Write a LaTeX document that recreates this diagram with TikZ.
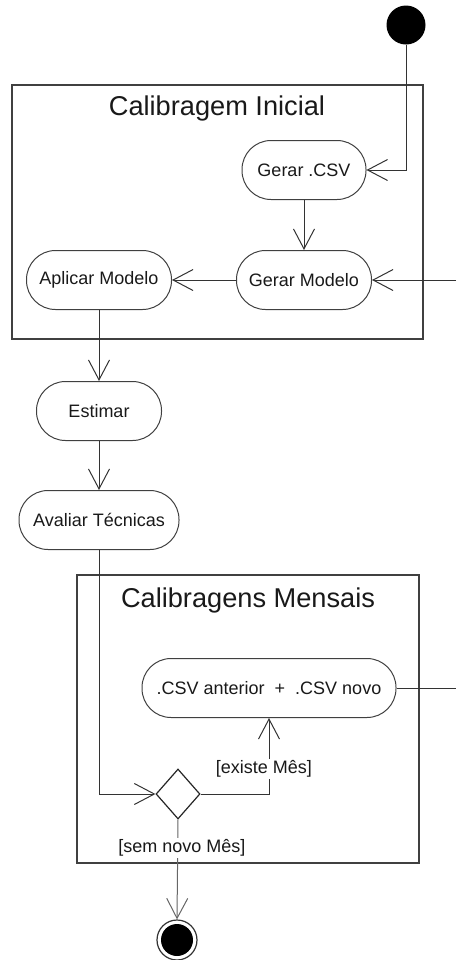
\documentclass[tikz,border=0pt]{standalone}
\usepackage{fontspec}
\setmainfont{Liberation Sans}
\usetikzlibrary{shapes.misc,shapes.geometric,arrows.meta}
\begin{document}
\begin{tikzpicture}[x=0.5pt,y=-0.5pt,
  line width=0.5pt,
  every node/.style={text=black!90},
  act/.style={draw=black!75, rectangle, rounded corners=14.5pt, minimum height=29.5pt, inner xsep=4pt, font=\fontsize{9pt}{11pt}\selectfont},
  frame/.style={draw=black!75, line width=0.6pt},
  ttl/.style={font=\fontsize{13.6pt}{16pt}\selectfont},
  lbl/.style={font=\fontsize{9pt}{11pt}\selectfont, inner sep=1pt, fill=white},
  flow/.style={draw=black!80, -{Straight Barb[length=10pt,width=10.5pt,line width=0.5pt]}},
  dec/.style={draw=black!85, diamond, minimum width=22pt, minimum height=25pt, inner sep=0pt, line width=0.6pt}
]
\useasboundingbox (0,0) rectangle (456,960);
% frames
\draw[frame] (12,85) rectangle (423,339);
\node[ttl] (t1) at (217,108) {Calibragem Inicial};
\draw[frame] (77,575) rectangle (419,863);
\node[ttl] (t2) at (248,600) {Calibragens Mensais};
% nodes
\node[fill=black, circle, minimum size=19.5pt, inner sep=0pt] (init) at (406,25) {};
\node[act, minimum width=62pt] (gcsv) at (304,170) {Gerar .CSV};
\node[act, minimum width=67.5pt] (gmod) at (304,280) {Gerar Modelo};
\node[act, minimum width=72.5pt] (aplic) at (99,280) {Aplicar Modelo};
\node[act, minimum width=62.5pt] (est) at (99,411) {Estimar};
\node[act, minimum width=80pt] (aval) at (99,520) {Avaliar Técnicas};
\node[act, minimum width=127pt] (csv) at (269,688) {.CSV anterior~~+~~.CSV novo};
\node[dec] (d) at (178,794) {};
\node[draw=black!80, circle, minimum size=20pt, inner sep=0pt, line width=0.6pt] (fin) at (177,940) {};
\node[fill=black, circle, minimum size=16pt, inner sep=0pt] (fini) at (fin.center) {};
\coordinate (r1) at (456,280);
\coordinate (r2) at (456,688);
% edges
\draw[flow] (init.south) |- (gcsv.east);
\draw[flow] (gcsv.south) -- (gmod.north);
\draw[flow] (gmod.west) -- (aplic.east);
\draw[flow] (r1) -- (gmod.east);
\draw[flow] (aplic.south) -- (est.north);
\draw[flow] (est.south) -- (aval.north);
\draw[flow] (aval.south) |- (d.west);
\draw[flow] (d.east) -| (csv.south);
\draw[draw=black!80] (csv.east) -- (r2);
\draw[flow, draw=black!60] (d.south) -- (fin.north);
% labels
\node[lbl] (l1) at (264,769) {[existe Mês]};
\node[lbl] (l2) at (182,848) {[sem novo Mês]};
\end{tikzpicture}
\end{document}
